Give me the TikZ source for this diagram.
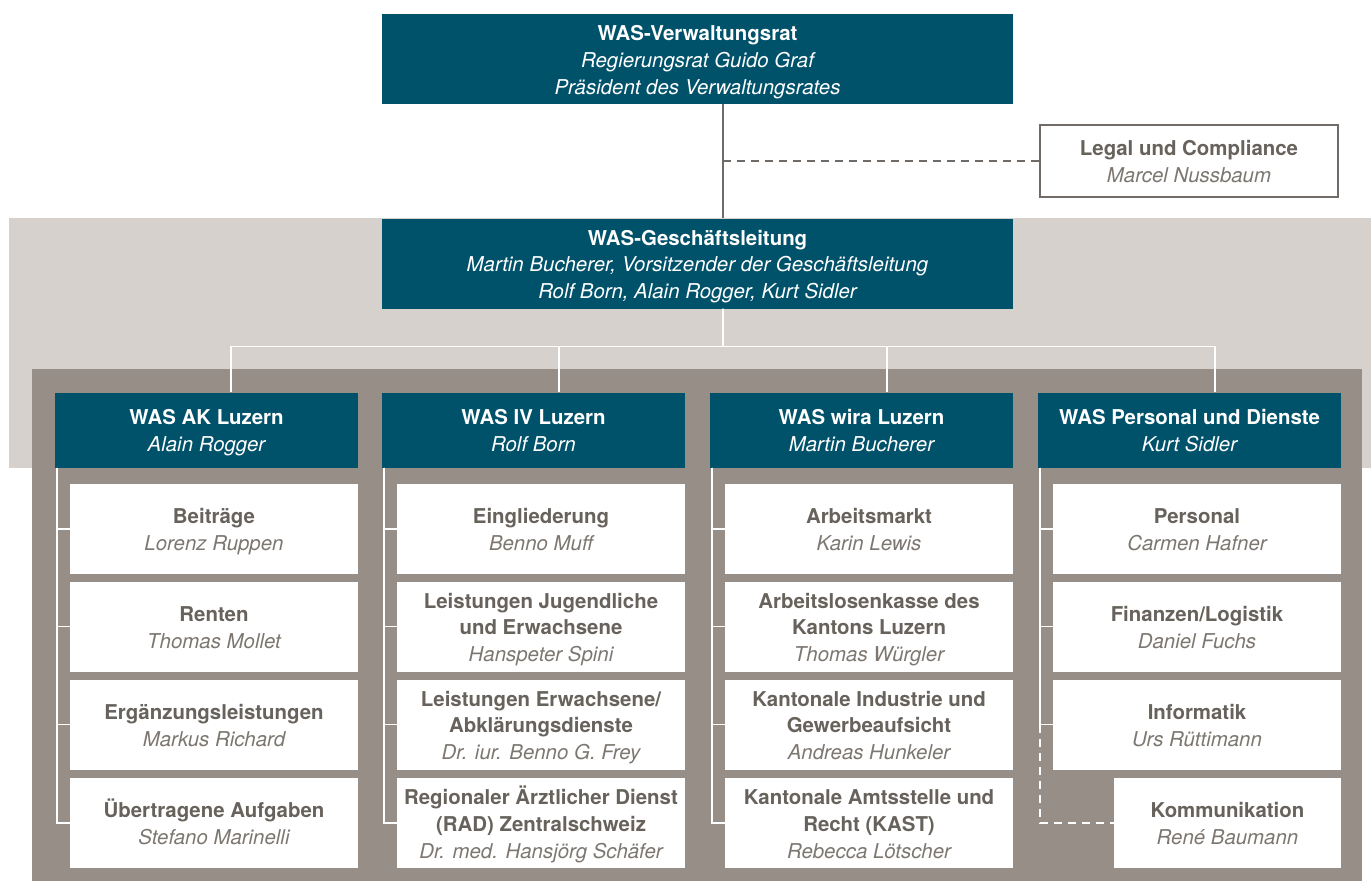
\documentclass[tikz,border=0pt]{standalone}
\usepackage{fontspec}
\setmainfont{TeX Gyre Heros}
\usetikzlibrary{positioning}
\definecolor{wasteal}{RGB}{0,82,107}
\definecolor{lightbg}{RGB}{214,209,204}
\definecolor{darkbg}{RGB}{150,142,135}
\definecolor{titlegray}{RGB}{103,98,92}
\definecolor{namegray}{RGB}{125,119,113}
\definecolor{linegray}{RGB}{112,107,102}
\tikzset{
  headbox/.style={fill=wasteal,text=white,align=center,inner sep=0pt,
    minimum width=631bp,minimum height=90bp},
  colbox/.style={fill=wasteal,text=white,align=center,inner sep=0pt,
    minimum width=303bp,minimum height=75bp},
  unitbox/.style={fill=white,text=titlegray,align=center,inner sep=0pt,
    minimum width=288bp,minimum height=90bp},
  legalbox/.style={fill=white,draw=linegray,line width=2.5bp,text=titlegray,
    align=center,inner sep=0pt,minimum width=298bp,minimum height=72bp},
  grayline/.style={draw=linegray,line width=1.6bp},
  graydash/.style={grayline,dash pattern=on 8bp off 6bp},
  treeline/.style={draw=white,line width=1.6bp},
  treedash/.style={treeline,dash pattern=on 8bp off 6bp},
}
\newcommand{\rowstrut}{\rule[-5bp]{0pt}{26.6bp}}
\newcommand{\ttl}[1]{{\bfseries\rowstrut #1}}
\newcommand{\who}[1]{{\itshape\color{namegray}\rowstrut #1}}
\newcommand{\whow}[1]{{\itshape\rowstrut #1}}
\begin{document}
\begin{tikzpicture}[x=1bp,y=-1bp,font=\fontsize{20.5}{26.8}\selectfont]
  \useasboundingbox (0,0) rectangle (1371,881);
  % backgrounds
  \fill[lightbg] (9,218) rectangle (1371,468);
  \fill[darkbg] (32,369) rectangle (1362,881);

  % top level
  \node[headbox] (vr) at (697.5,59) {\ttl{WAS-Verwaltungsrat}\\\whow{Regierungsrat Guido Graf}\\\whow{Präsident des Verwaltungsrates}};
  \node[legalbox] (legal) at (1189,161) {\ttl{Legal und Compliance}\\\who{Marcel Nussbaum}};
  \node[headbox] (gl) at (697.5,263.5) {\ttl{WAS-Geschäftsleitung}\\\whow{Martin Bucherer, Vorsitzender der Geschäftsleitung}\\\whow{Rolf Born, Alain Rogger, Kurt Sidler}};

  \draw[grayline] ([xshift=25.5bp]vr.south) -- ([xshift=25.5bp]gl.north);
  \coordinate (legaltap) at (723,161);
  \draw[graydash] (legaltap) -- (legal.west);

  % columns
  \node[colbox] (ak) at (206.5,430) {\ttl{WAS AK Luzern}\\\whow{Alain Rogger}};
  \node[colbox] (iv) at (533.5,430) {\ttl{WAS IV Luzern}\\\whow{Rolf Born}};
  \node[colbox] (wira) at (861.5,430) {\ttl{WAS wira Luzern}\\\whow{Martin Bucherer}};
  \node[colbox] (pd) at (1189.5,430) {\ttl{WAS Personal und Dienste}\\\whow{Kurt Sidler}};

  \coordinate (bus) at (723,346.5);
  \draw[treeline] ([xshift=25.5bp]gl.south) -- (bus);
  \draw[treeline] ([xshift=24.5bp]ak.north) |- (bus) -| ([xshift=25.5bp]pd.north);
  \draw[treeline] ([xshift=25.5bp]iv.north) |- (bus);
  \draw[treeline] ([xshift=25.5bp]wira.north) |- (bus);

  % AK Luzern
  \node[unitbox] (ak1) at (214,529) {\ttl{Beiträge}\\\who{Lorenz Ruppen}};
  \node[unitbox] (ak2) at (214,626.5) {\ttl{Renten}\\\who{Thomas Mollet}};
  \node[unitbox] (ak3) at (214,724.5) {\ttl{Ergänzungsleistungen}\\\who{Markus Richard}};
  \node[unitbox] (ak4) at (214,823) {\ttl{Übertragene Aufgaben}\\\who{Stefano Marinelli}};

  % IV Luzern
  \node[unitbox] (iv1) at (541,529) {\ttl{Eingliederung}\\\who{Benno Muff}};
  \node[unitbox] (iv2) at (541,626.5) {\ttl{Leistungen Jugendliche}\\\ttl{und Erwachsene}\\\who{Hanspeter Spini}};
  \node[unitbox] (iv3) at (541,724.5) {\ttl{Leistungen Erwachsene/}\\\ttl{Abklärungsdienste}\\\who{Dr. iur. Benno G. Frey}};
  \node[unitbox] (iv4) at (541,823) {\ttl{Regionaler Ärztlicher Dienst}\\\ttl{(RAD) Zentralschweiz}\\\who{Dr. med. Hansjörg Schäfer}};

  % wira Luzern
  \node[unitbox] (wi1) at (869,529) {\ttl{Arbeitsmarkt}\\\who{Karin Lewis}};
  \node[unitbox] (wi2) at (869,626.5) {\ttl{Arbeitslosenkasse des}\\\ttl{Kantons Luzern}\\\who{Thomas Würgler}};
  \node[unitbox] (wi3) at (869,724.5) {\ttl{Kantonale Industrie und}\\\ttl{Gewerbeaufsicht}\\\who{Andreas Hunkeler}};
  \node[unitbox] (wi4) at (869,823) {\ttl{Kantonale Amtsstelle und}\\\ttl{Recht (KAST)}\\\who{Rebecca Lötscher}};

  % Personal und Dienste
  \node[unitbox] (pd1) at (1197,529) {\ttl{Personal}\\\who{Carmen Hafner}};
  \node[unitbox] (pd2) at (1197,626.5) {\ttl{Finanzen/Logistik}\\\who{Daniel Fuchs}};
  \node[unitbox] (pd3) at (1197,724.5) {\ttl{Informatik}\\\who{Urs Rüttimann}};
  \node[unitbox,minimum width=227bp] (pd4) at (1227.5,823) {\ttl{Kommunikation}\\\who{René Baumann}};

  % trees
  \foreach \col/\a/\b/\c/\d in {ak/ak1/ak2/ak3/ak4,iv/iv1/iv2/iv3/iv4,wira/wi1/wi2/wi3/wi4}{
    \draw[treeline] ([xshift=2bp]\col.south west) |- (\d.west);
    \foreach \u in {\a,\b,\c}
      \draw[treeline] ([xshift=2bp]\col.south west) |- (\u.west);
  }
  \foreach \u in {pd1,pd2,pd3}
    \draw[treeline] ([xshift=2bp]pd.south west) |- (\u.west);
  \coordinate (pdtap) at (1040,724.5);
  \draw[treedash] (pdtap) |- (pd4.west);
\end{tikzpicture}
\end{document}
